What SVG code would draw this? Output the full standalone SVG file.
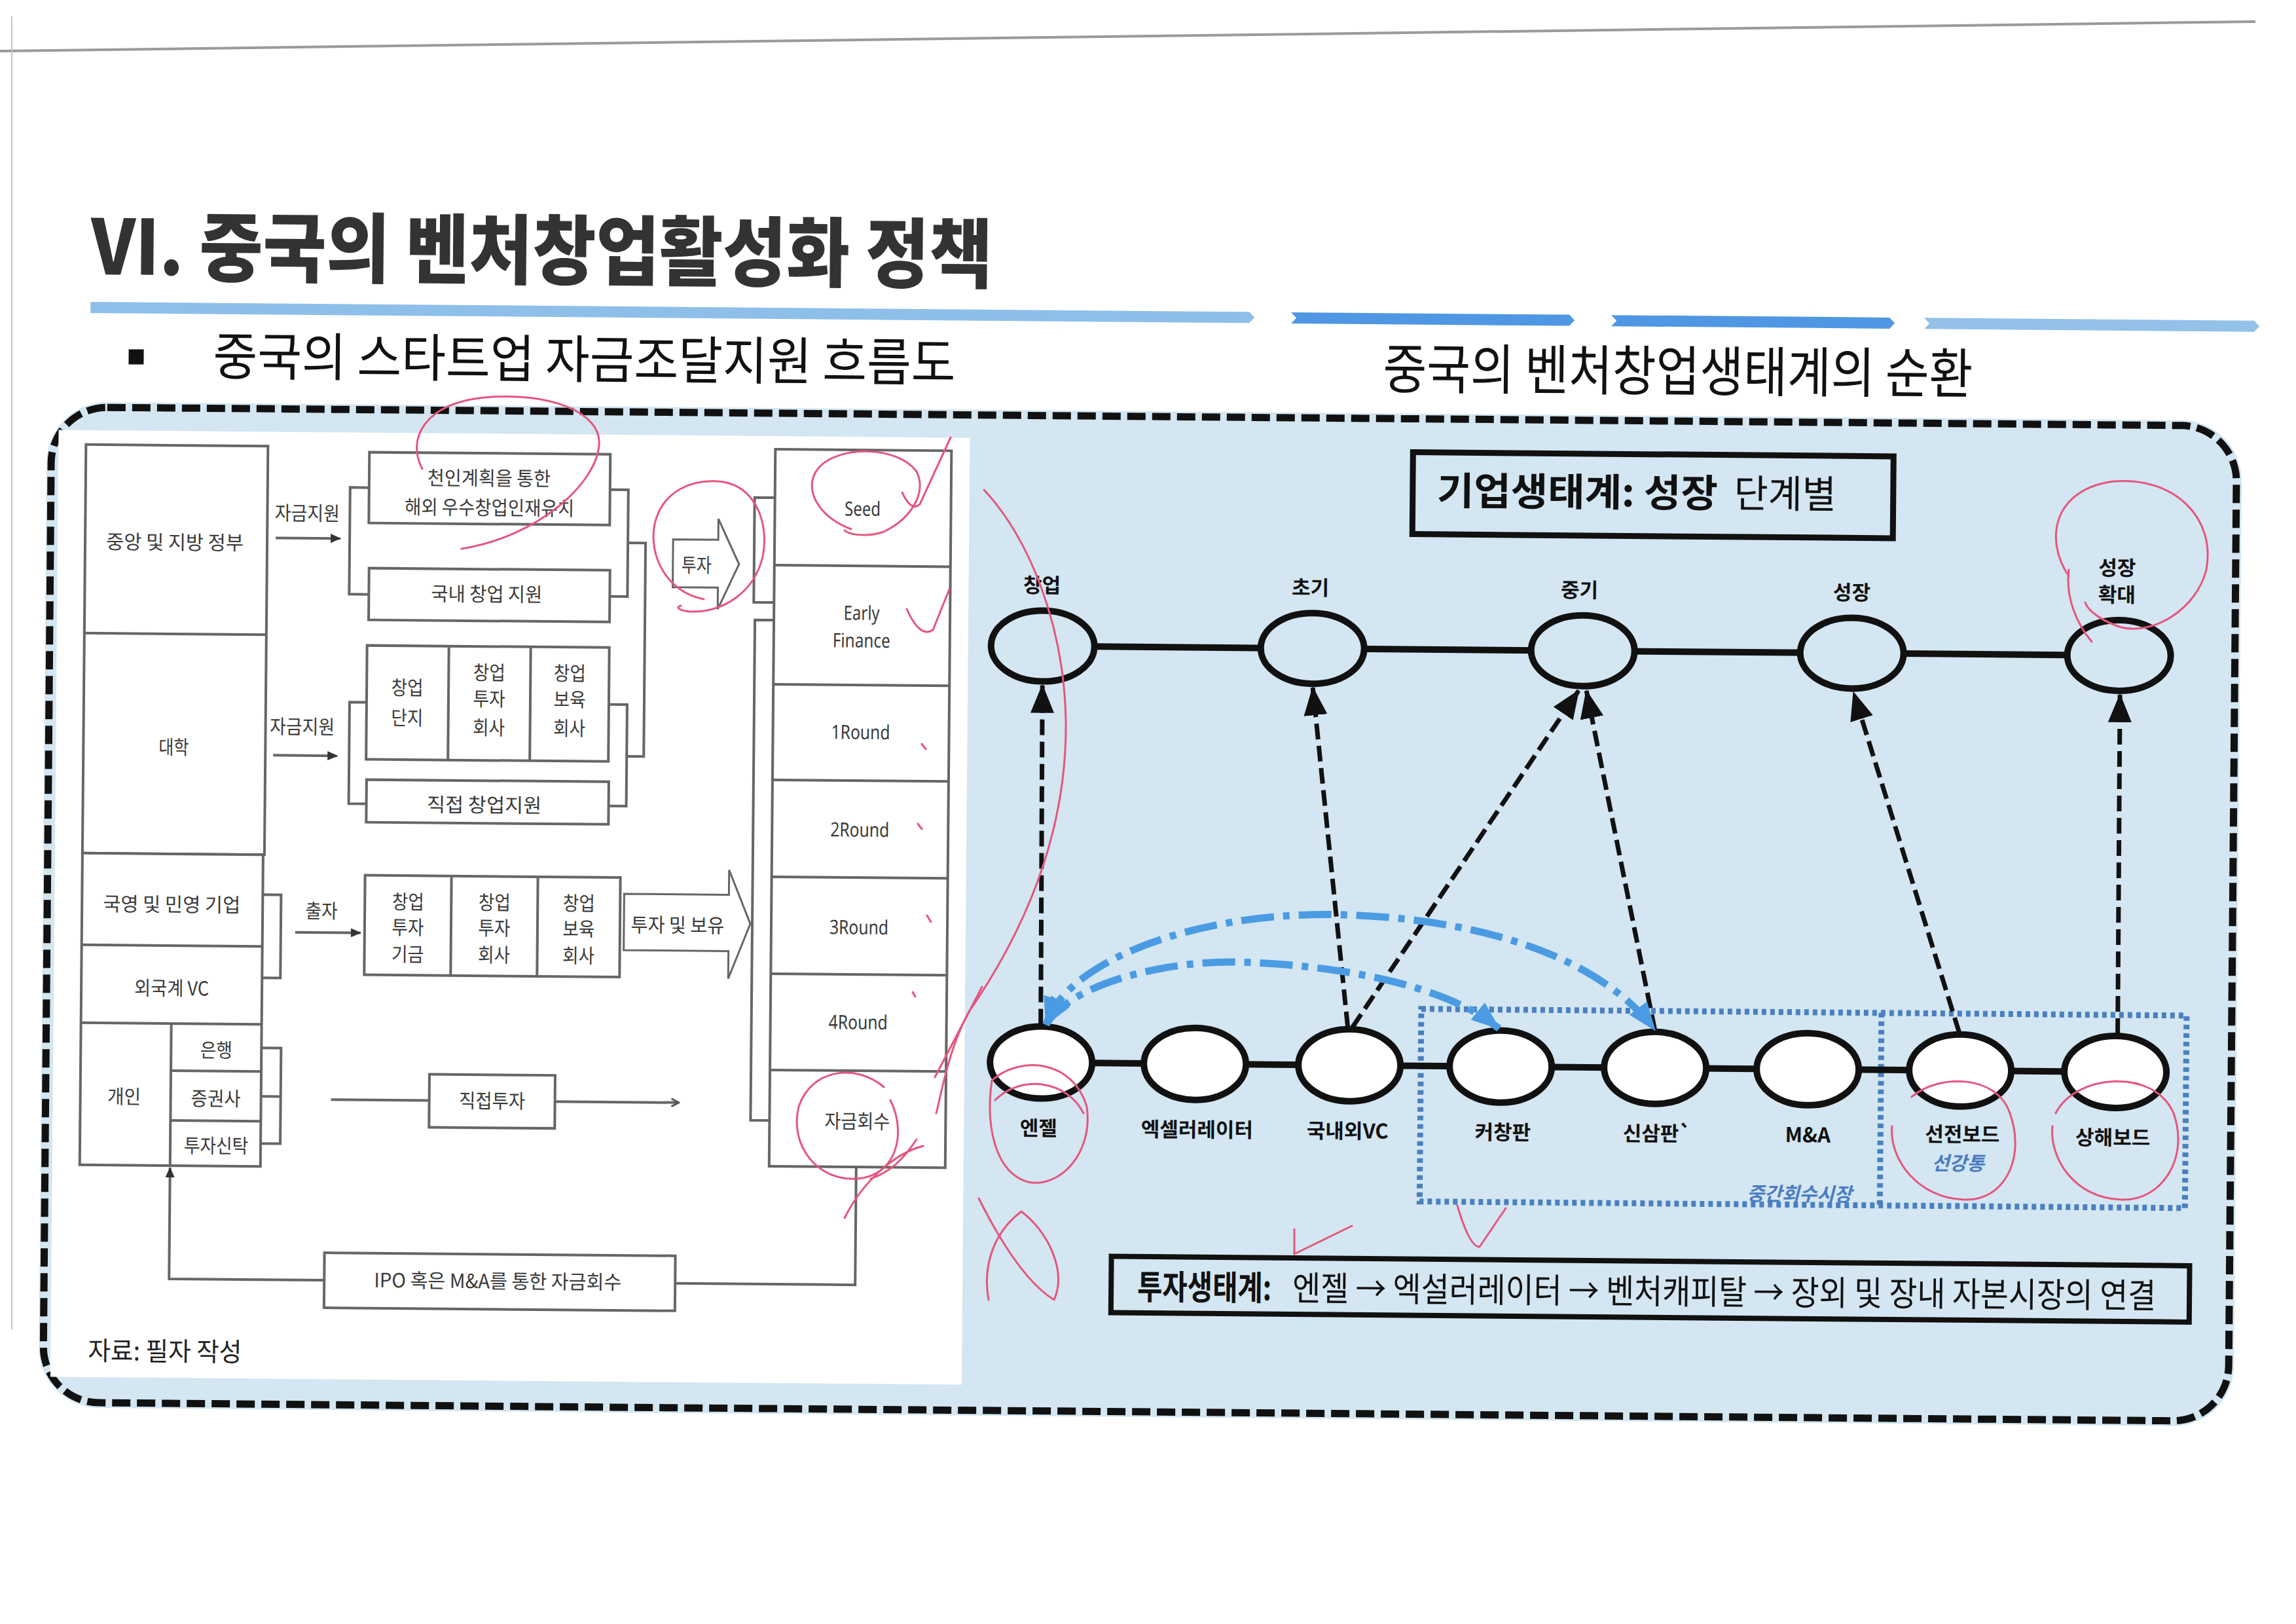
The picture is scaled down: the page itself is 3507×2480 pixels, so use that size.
<svg xmlns="http://www.w3.org/2000/svg" width="3507" height="2480" viewBox="0 0 3507 2480">
<defs>
<style>
text { font-family: "Noto Sans CJK KR", "Noto Sans CJK SC", "Noto Sans", sans-serif; }
.lat { font-family: "Noto Sans", "Liberation Sans", sans-serif; }
.ln { fill: none; stroke: #666; stroke-width: 4; }
.bx { fill: #fff; stroke: #666; stroke-width: 4; }
.lt { font-size: 30px; fill: #3a3a3a; text-anchor: middle; dominant-baseline: central; }
.nd { stroke: #111; stroke-width: 10; }
.lk { stroke: #111; stroke-width: 10; fill: none; }
.sl { font-size: 31px; font-weight: 700; fill: #111; text-anchor: middle; dominant-baseline: central; }
.bl { font-size: 29px; font-weight: 700; font-style: italic; fill: #4a7cc0; text-anchor: middle; dominant-baseline: central; }
.dsh { fill: none; stroke: #111; stroke-width: 7; stroke-dasharray: 24 10; marker-end: url(#ah); }
.arc { fill: none; stroke: #4b9be3; stroke-width: 11; stroke-dasharray: 50 14 10 14; marker-start: url(#bh); marker-end: url(#bh); }
.dot { fill: none; stroke: #4a80c0; stroke-width: 9; stroke-dasharray: 7 6; }
.red { fill: none; stroke: #e4567e; stroke-width: 3; stroke-linecap: round; stroke-linejoin: round; }
</style>
<marker id="ah" markerUnits="userSpaceOnUse" markerWidth="44" markerHeight="40" viewBox="0 0 44 40" refX="42" refY="20" orient="auto"><path d="M0,2 L44,20 L0,38 z" fill="#111" stroke="none"/></marker>
<marker id="bh" markerUnits="userSpaceOnUse" markerWidth="44" markerHeight="34" viewBox="0 0 44 34" refX="42" refY="17" orient="auto-start-reverse"><path d="M0,0 L44,17 L0,34 z" fill="#4b9be3" stroke="none"/></marker>
<marker id="sa" markerUnits="userSpaceOnUse" markerWidth="16" markerHeight="14" viewBox="0 0 16 14" refX="15" refY="7" orient="auto"><path d="M0,0 L16,7 L0,14 z" fill="#333" stroke="none"/></marker>
<marker id="oa" markerUnits="userSpaceOnUse" markerWidth="16" markerHeight="16" viewBox="0 0 16 16" refX="14" refY="8" orient="auto"><path d="M3,2 L14,8 L3,14" fill="none" stroke="#555" stroke-width="3"/></marker>
</defs>

<rect width="3507" height="2480" fill="#fff"/>
<line x1="0" y1="78" x2="3445" y2="33" stroke="#9a9a9a" stroke-width="4"/>
<line x1="18" y1="25" x2="18" y2="2030" stroke="#c4c4c4" stroke-width="2"/>

<g transform="rotate(0.5 1750 1300)">
  <g id="header">
    <text x="131" y="433" font-size="116" font-weight="900" fill="#333" textLength="1377" lengthAdjust="spacingAndGlyphs">VI. 중국의 벤처창업활성화 정책</text>
    <polygon points="131,475 1901,475 1909,483.5 1901,492 131,492" fill="#8ebfe9"/>
    <polygon points="1965,475 2390,475 2398,483.5 2390,492 1965,492 1973,483.5" fill="#4f97e3"/>
    <polygon points="2454,475 2879,475 2887,483.5 2879,492 2454,492 2462,483.5" fill="#4f97e3"/>
    <polygon points="2932,475 3436,475 3444,483.5 3436,492 2932,492 2940,483.5" fill="#93c1e8"/>
    <rect x="190" y="547" width="23" height="23" fill="#111"/>
    <text x="319" y="585" font-size="79" fill="#111" textLength="1134" lengthAdjust="spacingAndGlyphs">중국의 스타트업 자금조달지원 흐름도</text>
    <text x="2106" y="590" font-size="83" fill="#111" textLength="901" lengthAdjust="spacingAndGlyphs">중국의 벤처창업생태계의 순환</text>
  </g>

  <rect id="panel-bg" x="66" y="628" width="3353" height="1536" rx="92" fill="#d3e6f1"/>
  <rect id="border" x="73" y="636" width="3338" height="1520" rx="85" fill="none" stroke="#111" stroke-width="11" stroke-dasharray="28 10"/>

  <g id="left-panel">
    <rect x="84" y="671" width="1392" height="1446" fill="#fff"/>
    <g id="col-gov">
      <rect class="bx" x="126" y="693" width="278" height="624"/>
      <line class="ln" x1="126" y1="981" x2="404" y2="981"/>
      <text class="lt" x="263" y="839" textLength="210" lengthAdjust="spacingAndGlyphs">중앙 및 지방 정부</text>
      <text class="lt" x="264" y="1152" textLength="46" lengthAdjust="spacingAndGlyphs">대학</text>
    </g>
    <g id="col-private">
      <rect class="bx" x="126" y="1317" width="276" height="476"/>
      <line class="ln" x1="126" y1="1457" x2="402" y2="1457"/>
      <line class="ln" x1="126" y1="1576" x2="402" y2="1576"/>
      <line class="ln" x1="264" y1="1576" x2="264" y2="1793"/>
      <line class="ln" x1="264" y1="1648" x2="402" y2="1648"/>
      <line class="ln" x1="264" y1="1724" x2="402" y2="1724"/>
      <text class="lt" x="263" y="1392" textLength="210" lengthAdjust="spacingAndGlyphs">국영 및 민영 기업</text>
      <text class="lt" x="264" y="1520" textLength="114" lengthAdjust="spacingAndGlyphs">외국계 VC</text>
      <text class="lt" x="193" y="1686" textLength="51" lengthAdjust="spacingAndGlyphs">개인</text>
      <text class="lt" x="333" y="1614" textLength="49" lengthAdjust="spacingAndGlyphs">은행</text>
      <text class="lt" x="333" y="1688" textLength="76" lengthAdjust="spacingAndGlyphs">증권사</text>
      <text class="lt" x="334" y="1760" textLength="98" lengthAdjust="spacingAndGlyphs">투자신탁</text>
    </g>
    <g id="box-talent">
      <rect class="bx" x="559" y="701" width="368" height="108"/>
      <text class="lt" x="742" y="737" textLength="188" lengthAdjust="spacingAndGlyphs">천인계획을 통한</text>
      <text class="lt" x="743" y="782" textLength="259" lengthAdjust="spacingAndGlyphs">해외 우수창업인재유치</text>
    </g>
    <g id="box-domestic">
      <rect class="bx" x="560" y="878" width="368" height="79"/>
      <text class="lt" x="740" y="914" textLength="170" lengthAdjust="spacingAndGlyphs">국내 창업 지원</text>
    </g>
    <g id="box-univ">
      <rect class="bx" x="558" y="996" width="370" height="174"/>
      <line class="ln" x1="683" y1="996" x2="683" y2="1170"/>
      <line class="ln" x1="808" y1="996" x2="808" y2="1170"/>
      <text class="lt" x="620" y="1058" textLength="49" lengthAdjust="spacingAndGlyphs">창업</text>
      <text class="lt" x="620" y="1104" textLength="49" lengthAdjust="spacingAndGlyphs">단지</text>
      <text class="lt" x="745" y="1034" textLength="49" lengthAdjust="spacingAndGlyphs">창업</text>
      <text class="lt" x="745" y="1074" textLength="49" lengthAdjust="spacingAndGlyphs">투자</text>
      <text class="lt" x="745" y="1118" textLength="49" lengthAdjust="spacingAndGlyphs">회사</text>
      <text class="lt" x="868" y="1034" textLength="49" lengthAdjust="spacingAndGlyphs">창업</text>
      <text class="lt" x="868" y="1074" textLength="49" lengthAdjust="spacingAndGlyphs">보육</text>
      <text class="lt" x="868" y="1118" textLength="49" lengthAdjust="spacingAndGlyphs">회사</text>
    </g>
    <g id="box-direct-support">
      <rect class="bx" x="559" y="1201" width="370" height="65"/>
      <text class="lt" x="739" y="1236" textLength="175" lengthAdjust="spacingAndGlyphs">직접 창업지원</text>
    </g>
    <g id="box-fund">
      <rect class="bx" x="558" y="1347" width="390" height="152"/>
      <line class="ln" x1="690" y1="1347" x2="690" y2="1499"/>
      <line class="ln" x1="822" y1="1347" x2="822" y2="1499"/>
      <text class="lt" x="624" y="1385" textLength="49" lengthAdjust="spacingAndGlyphs">창업</text>
      <text class="lt" x="624" y="1424" textLength="49" lengthAdjust="spacingAndGlyphs">투자</text>
      <text class="lt" x="624" y="1465" textLength="49" lengthAdjust="spacingAndGlyphs">기금</text>
      <text class="lt" x="756" y="1385" textLength="49" lengthAdjust="spacingAndGlyphs">창업</text>
      <text class="lt" x="756" y="1424" textLength="49" lengthAdjust="spacingAndGlyphs">투자</text>
      <text class="lt" x="756" y="1465" textLength="49" lengthAdjust="spacingAndGlyphs">회사</text>
      <text class="lt" x="885" y="1385" textLength="49" lengthAdjust="spacingAndGlyphs">창업</text>
      <text class="lt" x="885" y="1424" textLength="49" lengthAdjust="spacingAndGlyphs">보육</text>
      <text class="lt" x="885" y="1465" textLength="49" lengthAdjust="spacingAndGlyphs">회사</text>
    </g>
    <g id="arrow-invest">
      <polygon points="1024,830 1093,830 1093,798 1125,867 1093,936 1093,903 1024,903" fill="#fff" stroke="#666" stroke-width="3"/>
      <text class="lt" x="1060" y="867" textLength="46" lengthAdjust="spacingAndGlyphs">투자</text>
    </g>
    <g id="arrow-hold">
      <polygon points="954,1372 1114,1372 1114,1334 1147,1416 1114,1500 1114,1458 954,1458" fill="#fff" stroke="#666" stroke-width="3"/>
      <text class="lt" x="1036" y="1417" textLength="143" lengthAdjust="spacingAndGlyphs">투자 및 보유</text>
    </g>
    <g id="box-direct-invest">
      <rect class="bx" x="659" y="1650" width="192" height="81"/>
      <text class="lt" x="755" y="1688" textLength="101" lengthAdjust="spacingAndGlyphs">직접투자</text>
    </g>
    <g id="box-ipo">
      <rect class="bx" x="501" y="1924" width="536" height="84"/>
      <text class="lt" x="766" y="1963" textLength="378" lengthAdjust="spacingAndGlyphs">IPO 혹은 M&amp;A를 통한 자금회수</text>
    </g>
    <g id="col-stage">
      <rect class="bx" x="1179" y="691" width="269" height="1095"/>
      <line class="ln" x1="1179" y1="868" x2="1448" y2="868"/>
      <line class="ln" x1="1179" y1="1050" x2="1448" y2="1050"/>
      <line class="ln" x1="1179" y1="1196" x2="1448" y2="1196"/>
      <line class="ln" x1="1179" y1="1344" x2="1448" y2="1344"/>
      <line class="ln" x1="1179" y1="1492" x2="1448" y2="1492"/>
      <line class="ln" x1="1179" y1="1639" x2="1448" y2="1639"/>
      <text class="lt lat" x="1313" y="780" textLength="55" lengthAdjust="spacingAndGlyphs">Seed</text>
      <text class="lt lat" x="1313" y="939" textLength="55" lengthAdjust="spacingAndGlyphs">Early</text>
      <text class="lt lat" x="1313" y="981" textLength="88" lengthAdjust="spacingAndGlyphs">Finance</text>
      <text class="lt lat" x="1313" y="1121" textLength="90" lengthAdjust="spacingAndGlyphs">1Round</text>
      <text class="lt lat" x="1313" y="1270" textLength="90" lengthAdjust="spacingAndGlyphs">2Round</text>
      <text class="lt lat" x="1313" y="1419" textLength="90" lengthAdjust="spacingAndGlyphs">3Round</text>
      <text class="lt lat" x="1313" y="1564" textLength="90" lengthAdjust="spacingAndGlyphs">4Round</text>
      <text class="lt" x="1313" y="1714" textLength="100" lengthAdjust="spacingAndGlyphs">자금회수</text>
    </g>
    <g id="left-connectors">
      <text class="lt" x="465" y="793" font-size="28" textLength="99" lengthAdjust="spacingAndGlyphs">자금지원</text>
      <line class="ln" x1="417" y1="833" x2="516" y2="833" marker-end="url(#sa)"/>
      <text class="lt" x="460" y="1119" font-size="28" textLength="99" lengthAdjust="spacingAndGlyphs">자금지원</text>
      <line class="ln" x1="416" y1="1165" x2="514" y2="1165" marker-end="url(#sa)"/>
      <path class="ln" d="M560 755 H530 V918 H560"/>
      <path class="ln" d="M927 755 H955 V918 H928"/>
      <path class="ln" d="M955 836 H982 V1162 H956"/>
      <path class="ln" d="M558 1083 H532 V1238 H559"/>
      <path class="ln" d="M928 1083 H956 V1238 H929"/>
      <path class="ln" d="M1179 765 H1148 V925 H1179"/>
      <path class="ln" d="M1179 952 H1150 V1716 H1179"/>
      <path class="ln" d="M402 1378 H430 V1505 H402"/>
      <text class="lt" x="492" y="1400" font-size="28" textLength="49" lengthAdjust="spacingAndGlyphs">출자</text>
      <line class="ln" x1="452" y1="1435" x2="552" y2="1435" marker-end="url(#sa)"/>
      <path class="ln" d="M402 1612 H432 V1758 H402 M402 1686 H432"/>
      <line class="ln" x1="509" y1="1690" x2="659" y2="1690"/>
      <line class="ln" x1="851" y1="1690" x2="1040" y2="1690" marker-end="url(#oa)"/>
      <path class="ln" d="M501 1966 H264 V1796" marker-end="url(#sa)"/>
      <path class="ln" d="M1037 1966 H1312 V1786"/>
    </g>
    <text x="141" y="2091" font-size="40" fill="#222" textLength="235" lengthAdjust="spacingAndGlyphs">자료: 필자 작성</text>
  </g>

  <g id="right-panel">
    <g id="title-box">
      <rect x="2153" y="687" width="734" height="125" fill="none" stroke="#111" stroke-width="9"/>
      <text x="2190" y="767" font-size="59" font-weight="700" fill="#111" textLength="429" lengthAdjust="spacingAndGlyphs">기업생태계: 성장</text>
      <text x="2644" y="767" font-size="59" fill="#111" textLength="156" lengthAdjust="spacingAndGlyphs">단계별</text>
    </g>
    <g id="mid-market">
      <rect class="dot" x="2173" y="1537" width="1169" height="294"/>
      <line class="dot" x1="2876" y1="1537" x2="2876" y2="1831"/>
      <text class="bl" x="2753" y="1812">중간회수시장</text>
    </g>
    <g id="connectors">
      <line class="lk" x1="1590" y1="988" x2="3234" y2="988"/>
      <line class="lk" x1="1593" y1="1624" x2="3234" y2="1624"/>
      <path class="dsh" d="M1592 1566 L1590 1048"/>
      <path class="dsh" d="M2061 1566 L2003 1048"/>
      <path class="dsh" d="M2068 1566 L2409 1049"/>
      <path class="dsh" d="M2530 1566 L2421 1049"/>
      <path class="dsh" d="M2995 1566 L2829 1048"/>
      <path class="dsh" d="M3237 1566 L3236 1048"/>
    </g>
    <g id="stage-startup"><ellipse class="nd" cx="1590" cy="988" rx="79" ry="54" fill="#d3e6f1"/><text class="sl" x="1588" y="893">창업</text></g>
    <g id="stage-early"><ellipse class="nd" cx="2002" cy="988" rx="79" ry="54" fill="#d3e6f1"/><text class="sl" x="1998" y="893">초기</text></g>
    <g id="stage-mid"><ellipse class="nd" cx="2415" cy="988" rx="79" ry="54" fill="#d3e6f1"/><text class="sl" x="2409" y="893">중기</text></g>
    <g id="stage-growth"><ellipse class="nd" cx="2826" cy="988" rx="79" ry="54" fill="#d3e6f1"/><text class="sl" x="2825" y="893">성장</text></g>
    <g id="stage-expand"><ellipse class="nd" cx="3234" cy="988" rx="79" ry="54" fill="#d3e6f1"/><text class="sl" x="3230" y="852" font-size="29">성장</text><text class="sl" x="3230" y="893" font-size="29">확대</text></g>

    <g id="n-angel"><ellipse class="nd" cx="1593" cy="1624" rx="78" ry="55" fill="#fff"/><text class="sl" x="1590" y="1722">엔젤</text></g>
    <g id="n-accel"><ellipse class="nd" cx="1828" cy="1624" rx="78" ry="55" fill="#fff"/><text class="sl" x="1832" y="1722">엑셀러레이터</text></g>
    <g id="n-vc"><ellipse class="nd" cx="2064" cy="1624" rx="78" ry="55" fill="#fff"/><text class="sl" x="2062" y="1722">국내외VC</text></g>
    <g id="n-chinext"><ellipse class="nd" cx="2295" cy="1624" rx="78" ry="55" fill="#fff"/><text class="sl" x="2299" y="1722">커창판</text></g>
    <g id="n-neeq"><ellipse class="nd" cx="2531" cy="1624" rx="78" ry="55" fill="#fff"/><text class="sl" x="2535" y="1722">신삼판`</text></g>
    <g id="n-ma"><ellipse class="nd" cx="2764" cy="1624" rx="78" ry="55" fill="#fff"/><text class="sl" x="2765" y="1722">M&amp;A</text></g>
    <g id="n-szse"><ellipse class="nd" cx="2997" cy="1624" rx="78" ry="55" fill="#fff"/><text class="sl" x="3001" y="1719">선전보드</text><text class="bl" x="2995" y="1763">선강통</text></g>
    <g id="n-sse"><ellipse class="nd" cx="3234" cy="1624" rx="78" ry="55" fill="#fff"/><text class="sl" x="3231" y="1722">상해보드</text></g>

    <g id="arcs">
      <path class="arc" d="M1600 1566 C1630 1470 1820 1395 2030 1394 C2250 1395 2440 1450 2530 1566"/>
      <path class="arc" d="M1600 1566 C1640 1500 1790 1465 1900 1468 C2050 1472 2210 1500 2292 1566"/>
    </g>

    <g id="invest-box">
      <rect x="1703" y="1919" width="1647" height="86" fill="none" stroke="#111" stroke-width="8"/>
      <text x="1743" y="1984" font-size="52" font-weight="700" fill="#111" textLength="205" lengthAdjust="spacingAndGlyphs">투자생태계:</text>
      <text x="1980" y="1984" font-size="52" fill="#111" textLength="1319" lengthAdjust="spacingAndGlyphs">엔젤 → 엑설러레이터 → 벤처캐피탈 → 장외 및 장내 자본시장의 연결</text>
    </g>
  </g>
</g>

<g id="annotations">
  <path class="red" d="M645 716 C620 670 650 615 740 607 C840 598 920 630 915 680 C910 740 820 820 705 838"/>
  <path class="red" d="M1075 915 C1020 905 990 850 1000 800 C1012 748 1060 730 1105 736 C1155 745 1175 800 1165 850 C1152 905 1105 935 1055 934 C1040 933 1030 928 1040 925"/>
  <path class="red" d="M1300 808 C1250 790 1225 745 1250 715 C1280 680 1370 680 1400 720 C1415 750 1395 790 1350 812 C1320 822 1295 815 1290 810"/>
  <path class="red" d="M1378 752 Q1392 782 1405 770 L1452 668"/>
  <path class="red" d="M1385 930 Q1405 975 1425 962 L1450 900"/>
  <path class="red" d="M1408 1136 L1414 1144 M1402 1258 L1408 1266 M1416 1398 L1422 1408 M1394 1515 L1398 1522"/>
  <path class="red" d="M1350 1660 C1310 1625 1240 1630 1220 1690 C1205 1750 1250 1805 1310 1800 C1370 1795 1385 1730 1360 1680"/>
  <path class="red" d="M1290 1860 C1320 1800 1370 1760 1410 1750 M1330 1800 C1360 1790 1380 1770 1400 1740 M1428 1645 L1500 1507"/>
  <path class="red" d="M1503 748 C1570 820 1625 950 1628 1100 C1630 1250 1580 1400 1480 1545 C1450 1600 1440 1660 1430 1700"/>
  <path class="red" d="M1515 1650 C1560 1610 1640 1620 1660 1690 C1670 1760 1620 1815 1570 1805 C1520 1790 1505 1720 1515 1650 M1520 1680 C1560 1640 1630 1650 1655 1700"/>
  <path class="red" d="M1495 1830 C1530 1900 1570 1960 1610 1985 C1630 1940 1600 1880 1560 1850 C1520 1880 1500 1930 1510 1985"/>
  <path class="red" d="M3160 880 C3120 820 3140 745 3230 735 C3320 728 3385 790 3370 870 C3355 930 3290 970 3240 958 C3215 950 3190 935 3185 920 M3160 870 C3155 910 3170 950 3195 980"/>
  <path class="red" d="M2920 1675 C2960 1640 3050 1640 3070 1700 C3095 1770 3060 1835 3000 1832 C2930 1830 2885 1770 2890 1720"/>
  <path class="red" d="M3140 1700 C3170 1640 3290 1630 3320 1700 C3345 1770 3300 1835 3240 1832 C3170 1830 3130 1770 3135 1720"/>
  <path class="red" d="M2226 1841 Q2245 1905 2260 1904 L2300 1845 M1977 1877 L1977 1915 L2065 1872"/>
</g>
</svg>
